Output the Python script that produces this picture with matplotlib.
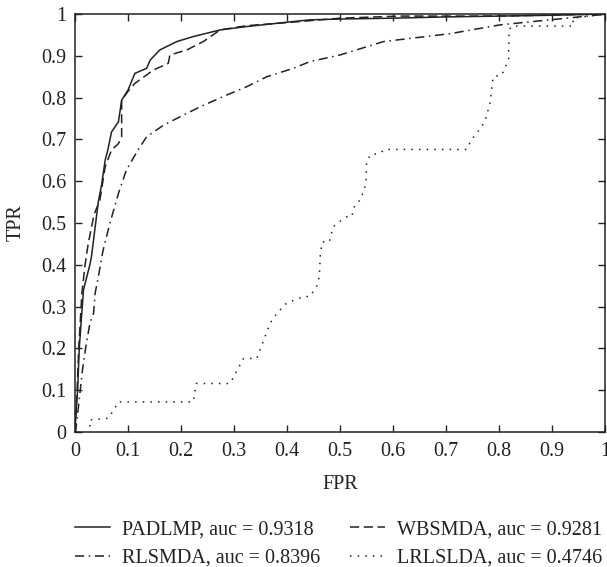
import matplotlib
matplotlib.use("Agg")
import matplotlib.pyplot as plt

plt.rcParams['font.family'] = ['Liberation Serif', 'DejaVu Serif']
plt.rcParams['font.size'] = 14.5

# ---- data ----
padlmp_fpr = [0, 0.002, 0.005, 0.008, 0.012, 0.016, 0.028, 0.031, 0.039, 0.044, 0.050, 0.057,
              0.062, 0.069, 0.082, 0.088, 0.1, 0.113, 0.135, 0.142, 0.160, 0.192, 0.223, 0.274,
              0.324, 0.412, 0.443, 0.5, 0.6, 0.7, 0.8, 0.9, 1.0]
padlmp_tpr = [0, 0.05, 0.10, 0.20, 0.27, 0.34, 0.40, 0.419, 0.50, 0.551, 0.59, 0.651,
              0.675, 0.718, 0.742, 0.794, 0.818, 0.858, 0.870, 0.890, 0.914, 0.934, 0.946, 0.962,
              0.970, 0.982, 0.986, 0.988, 0.990, 0.993, 0.995, 0.997, 1.0]

wbsmda_fpr = [0, 0.004, 0.007, 0.013, 0.019, 0.025, 0.036, 0.047, 0.057, 0.069, 0.082, 0.088,
              0.088, 0.1, 0.113, 0.148, 0.176, 0.179, 0.211, 0.242, 0.274, 0.324, 0.425,
              0.5, 0.613, 0.8, 0.99, 1.0]
wbsmda_tpr = [0, 0.10, 0.20, 0.332, 0.40, 0.451, 0.52, 0.555, 0.635, 0.675, 0.690, 0.706,
              0.794, 0.815, 0.834, 0.866, 0.882, 0.902, 0.914, 0.934, 0.962, 0.972, 0.982,
              0.990, 0.995, 0.995, 1.0, 1.0]

rlsmda_fpr = [0, 0.001, 0.008, 0.014, 0.020, 0.028, 0.035, 0.038, 0.044, 0.053, 0.066, 0.082,
              0.097, 0.119, 0.135, 0.167, 0.198, 0.236, 0.286, 0.324, 0.362, 0.412, 0.443,
              0.5, 0.582, 0.708, 0.802, 0.896, 0.99, 1.0]
rlsmda_tpr = [0, 0.0, 0.077, 0.148, 0.20, 0.26, 0.284, 0.332, 0.371, 0.435, 0.50, 0.571,
              0.627, 0.675, 0.706, 0.734, 0.754, 0.778, 0.806, 0.826, 0.850, 0.870, 0.886,
              0.902, 0.934, 0.953, 0.974, 0.986, 0.998, 1.0]

lrlslda_fpr = [0.028, 0.028, 0.063, 0.069, 0.075, 0.082, 0.223, 0.229, 0.292, 0.296, 0.318,
               0.343, 0.368, 0.381, 0.399, 0.431, 0.443, 0.456, 0.461, 0.463, 0.465, 0.467,
               0.480, 0.487, 0.503, 0.513, 0.522, 0.528, 0.538, 0.543, 0.549, 0.550, 0.557,
               0.575, 0.585, 0.739, 0.748, 0.767, 0.774, 0.783, 0.789, 0.805, 0.811, 0.818,
               0.819, 0.824, 0.940, 0.940, 1.0]
lrlslda_tpr = [0.013, 0.029, 0.033, 0.045, 0.057, 0.072, 0.072, 0.116, 0.116, 0.124, 0.176,
               0.176, 0.260, 0.284, 0.308, 0.324, 0.324, 0.348, 0.372, 0.427, 0.443, 0.455,
               0.455, 0.491, 0.507, 0.515, 0.515, 0.543, 0.555, 0.571, 0.595, 0.643, 0.663,
               0.667, 0.676, 0.676, 0.699, 0.730, 0.746, 0.786, 0.850, 0.854, 0.870, 0.890,
               0.962, 0.971, 0.971, 0.990, 1.0]

labels = ["PADLMP, auc = 0.9318", "WBSMDA, auc = 0.9281",
          "RLSMDA, auc = 0.8396", "LRLSLDA, auc = 0.4746"]
tick_vals = [0, 0.1, 0.2, 0.3, 0.4, 0.5, 0.6, 0.7, 0.8, 0.9, 1]
tick_labels = ["0", "0.1", "0.2", "0.3", "0.4", "0.5", "0.6", "0.7", "0.8", "0.9", "1"]

# ---- figure ----
W, H = 607, 567
fig = plt.figure(figsize=(W / 100, H / 100), dpi=100)
ax = fig.add_axes([75 / W, 1 - 432 / H, (605 - 75) / W, (432 - 14) / H])

col = "#222222"
l1, = ax.plot(padlmp_fpr, padlmp_tpr, color=col, lw=1.1, ls='-')
l2, = ax.plot(wbsmda_fpr, wbsmda_tpr, color=col, lw=1.1, ls=(0, (6, 3)))
l3, = ax.plot(rlsmda_fpr, rlsmda_tpr, color=col, lw=1.1, ls=(0, (6, 3, 1, 3)))
l4, = ax.plot(lrlslda_fpr, lrlslda_tpr, color=col, lw=1.1, ls=(0, (1, 4)))

ax.set_xlim(0, 1)
ax.set_ylim(0, 1)
ax.set_xticks(tick_vals)
ax.set_xticklabels(tick_labels)
ax.set_yticks(tick_vals)
ax.set_yticklabels(tick_labels)
ax.tick_params(direction='in', length=5, width=1, top=True, right=True,
               colors=col, labelcolor=col)
ax.tick_params(axis='x', pad=7)
ax.tick_params(axis='y', pad=6)
for s in ax.spines.values():
    s.set_linewidth(1.1)
    s.set_color(col)

ax.set_xlabel("FPR", color=col, labelpad=10)
ax.set_ylabel("TPR", color=col, labelpad=11)

fig.legend([l1, l3, l2, l4], [labels[0], labels[2], labels[1], labels[3]],
           ncol=2, loc='center left', bbox_to_anchor=(75 / W, 1 - 544 / H),
           frameon=False, handlelength=1.75, handletextpad=0.6, columnspacing=1.45,
           labelspacing=0.45, borderpad=0, borderaxespad=0, labelcolor=col)

fig.savefig("out.png", dpi=100)
